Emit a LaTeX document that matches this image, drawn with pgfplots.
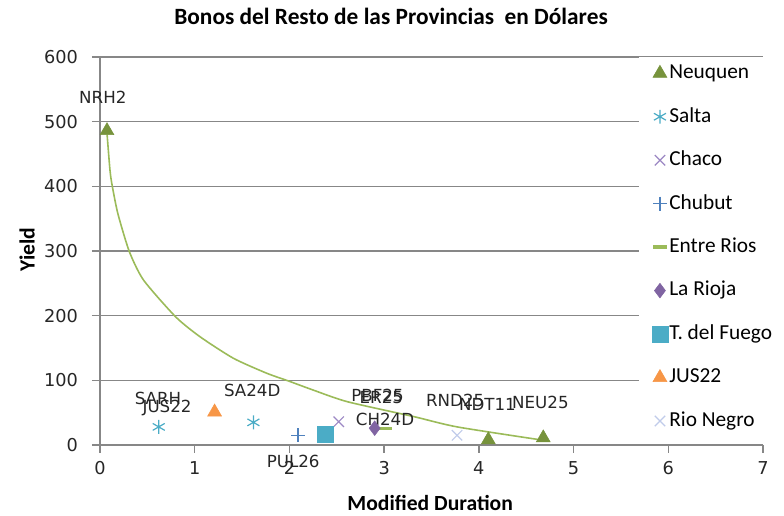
\documentclass[border=0pt]{standalone}
\usepackage{fontspec}
\setmainfont{Carlito}
\newfontfamily\dejavu{DejaVu Sans}
\usepackage{pgfplots}
\pgfplotsset{compat=1.18}
\definecolor{neu}{HTML}{77933C}
\definecolor{trend}{HTML}{9BBB59}
\definecolor{salta}{HTML}{4BACC6}
\definecolor{chaco}{HTML}{9C88C4}
\definecolor{chubut}{HTML}{4F81BD}
\definecolor{rioja}{HTML}{8064A2}
\definecolor{fuego}{HTML}{4BACC6}
\definecolor{jus}{HTML}{F79646}
\definecolor{rionegro}{HTML}{C0CBEA}
\definecolor{gridgray}{HTML}{878787}
\tikzset{lbl/.style={font=\dejavu\fontsize{12.5}{15}\selectfont, text=black!85, inner sep=0pt}}
\begin{document}
\begin{tikzpicture}
\path[use as bounding box] (-75pt,-53.25pt) rectangle (513pt,333.75pt);
\begin{axis}[
  scale only axis, width=497.25pt, height=291pt,
  xmin=0, xmax=7, ymin=0, ymax=600,
  xtick={0,1,...,7}, ytick={0,100,...,600},
  axis x line=bottom, axis y line=left,
  axis line style={gridgray, line width=1pt, -},
  tick style={gridgray, line width=1pt},
  tick align=outside, major tick length=6pt,
  ymajorgrids, grid style={gridgray, line width=1.1pt},
  clip=false,
  tick label style={font=\dejavu\fontsize{13.3}{16}\selectfont, text=black!85},
  xticklabel style={yshift=-3pt},
  yticklabel style={xshift=-7pt},
  /pgf/number format/assume math mode=true,
  title={Bonos del Resto de las Provincias\ \ en Dólares},
  title style={at={(axis description cs:0.439,1.085)}, anchor=center, yshift=0pt, font=\bfseries\fontsize{17.5}{21}\selectfont},
  xlabel={Modified Duration},
  xlabel style={at={(axis description cs:0.498,-0.149)}, anchor=center, font=\bfseries\fontsize{16.2}{19}\selectfont},
  ylabel={Yield},
  ylabel style={at={(axis description cs:-0.110,0.503)}, anchor=center, font=\bfseries\fontsize{16.2}{19}\selectfont},
  legend cell align=left,
  legend image code/.code={\draw[mark repeat=2,mark phase=2,#1] plot coordinates {(0pt,0pt)(6pt,0pt)(12pt,0pt)};},
  legend style={at={(axis description cs:0.813,1.0)}, anchor=north west, draw=none, fill=white,
    font=\fontsize{16}{19}\selectfont, row sep=16.6pt, inner xsep=9.5pt, inner ysep=4pt,
    nodes={text height=11pt, text depth=3pt, inner sep=1pt}},
]
% trendline (not in legend)
\addplot[trend, line width=1.2pt, smooth, tension=0.4, forget plot] coordinates {
 (0.075,480) (0.106,424) (0.13,400) (0.19,357) (0.31,299) (0.46,255) (0.80,198)
 (1.06,167) (1.41,134) (1.76,111) (1.99,99) (2.25,85) (2.61,67) (3.31,44) (3.77,28) (4.65,8)};
\addplot[only marks, mark=triangle*, mark size=6pt, color=neu] coordinates {(0.074,486) (4.10,8) (4.68,11)};
\addlegendentry{Neuquen}
\addplot[only marks, mark=asterisk, mark size=5.2pt, color=salta, line width=0.9pt] coordinates {(0.62,28) (1.62,35)};
\addlegendentry{Salta}
\addplot[only marks, mark=x, mark size=5.5pt, color=chaco, line width=0.9pt] coordinates {(2.52,36)};
\addlegendentry{Chaco}
\addplot[only marks, mark=+, mark size=5.2pt, color=chubut, line width=0.9pt] coordinates {(2.09,15)};
\addlegendentry{Chubut}
\addplot[only marks, mark=-, mark size=5pt, color=trend, line width=2.5pt] coordinates {(3.01,26)};
\addlegendentry{Entre Rios}
\addplot[only marks, mark=diamond*, mark size=5.5pt, color=rioja] coordinates {(2.90,26)};
\addlegendentry{La Rioja}
\addplot[only marks, mark=square*, mark size=6pt, color=fuego] coordinates {(2.38,17)};
\addlegendentry{T. del Fuego}
\addplot[only marks, mark=triangle*, mark size=6pt, color=jus] coordinates {(1.21,51)};
\addlegendentry{JUS22}
\addplot[only marks, mark=x, mark size=5.5pt, color=rionegro, line width=0.9pt] coordinates {(3.77,15)};
\addlegendentry{Rio Negro}
% data labels
\node[lbl] at (axis cs:0.03,537) {NRH2};
\node[lbl] at (axis cs:0.613,72.5) {SARH};
\node[lbl] at (axis cs:0.708,57) {JUS22};
\node[lbl] at (axis cs:1.607,85) {SA24D};
\node[lbl] at (axis cs:2.04,-26) {PUL26};
\node[lbl] at (axis cs:2.93,77) {PBF25};
\node[lbl] at (axis cs:2.97,74) {ER25};
\node[lbl] at (axis cs:3.01,39) {CH24D};
\node[lbl] at (axis cs:3.75,69) {RND25};
\node[lbl] at (axis cs:4.09,62) {NDT11};
\node[lbl] at (axis cs:4.65,66) {NEU25};
\end{axis}
\end{tikzpicture}
\end{document}
